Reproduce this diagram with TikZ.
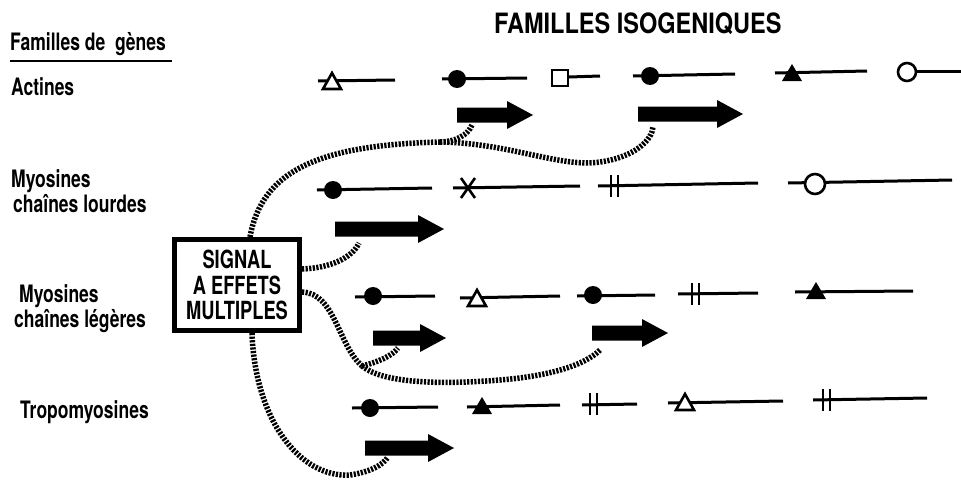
\documentclass[tikz,border=0pt]{standalone}
\usepackage{fontspec}
\setmainfont{TeX Gyre Heros}[FakeStretch=0.73]
\newfontfamily\titlefont{TeX Gyre Heros}[FakeStretch=0.84]
\newcommand\blockarrow[4]{% name, x, y, body length
  \fill[black] (#2,#3-7.5) -- ++(#4,0) -- ++(0,-6.5) -- ++(26,14) -- ++(-26,14) -- ++(0,-6.5) -- ++(-#4,0) -- cycle;
  \coordinate (#1) at (#2,#3);}
\newcommand\gtriO[2]{\draw[gsym,fill=white] (#1-9,#2+8) -- (#1,#2-8) -- (#1+9,#2+8) -- cycle;}
\newcommand\gtriF[2]{\fill (#1-10,#2+8) -- (#1,#2-9) -- (#1+10,#2+8) -- cycle;}
\newcommand\gbars[3]{\draw[gsym] (#1,#2-11) -- (#1,#2+11) (#1+7,#2-11) -- (#1+7,#2+11);}
\newcommand\gcross[2]{\draw[gsym] (#1-7,#2-10) -- (#1+7,#2+10) (#1+7,#2-10) -- (#1-7,#2+10);}
\begin{document}
\begin{tikzpicture}[x=1pt,y=-1pt,
  lab/.style={anchor=base west, font=\fontsize{24}{28}\selectfont\bfseries, inner sep=0},
  gline/.style={line width=3pt},
  gsym/.style={line width=2.6pt},
  dotF/.style={circle, fill=black, inner sep=0, minimum size=18pt},
  dotO/.style={circle, draw, fill=white, line width=2.6pt, inner sep=0, minimum size=18pt},
  sqO/.style={rectangle, draw, fill=white, line width=2.4pt, inner sep=0, minimum size=16pt},
  sigline/.style={line width=5.5pt, dash pattern=on 2.2pt off 1.4pt},
  sigbox/.style={draw, line width=5pt, minimum width=125pt, minimum height=91pt, inner sep=0,
     align=center, font=\fontsize{25}{25.5}\selectfont\bfseries}]
\useasboundingbox (0,0) rectangle (961,482);

% left labels
\node[lab] (fam) at (10,50) {Familles de\ \ gènes};
\draw[line width=2pt] (10,61) -- (172,61);
\node[lab] (act) at (11,95) {Actines};
\node[lab] (myl1) at (11,187) {Myosines};
\node[lab] (myl2) at (13,212) {chaînes lourdes};
\node[lab] (mye1) at (19,302) {Myosines};
\node[lab] (mye2) at (14,327) {chaînes légères};
\node[lab] (tro) at (20,418) {Tropomyosines};
\node[anchor=base west, inner sep=0, font=\fontsize{28}{30}\titlefont\bfseries] (title) at (494,33) {FAMILLES ISOGENIQUES};

% signal box
\node[sigbox] (sig) at (237,285) {SIGNAL\\A EFFETS\\MULTIPLES};

% row 1: Actines
\draw[gline] (318,81) -- (395,80); \gtriO{332}{81}
\draw[gline] (442,79) -- (527,78); \node[dotF] (r1b) at (457,79) {};
\draw[gline] (569,77) -- (600,76); \node[sqO] (r1c) at (560,78) {};
\draw[gline] (633,76) -- (735,74); \node[dotF] (r1d) at (650,76) {};
\draw[gline] (775,73) -- (867,71); \gtriF{792}{73}
\draw[gline] (916,71) -- (961,71); \node[dotO] (r1f) at (907,72) {};

% row 2: Myosines chaines lourdes
\draw[gline] (317,190) -- (432,188); \node[dotF] (r2a) at (333,190) {};
\draw[gline] (453,188) -- (580,186); \gcross{468}{188}
\draw[gline] (598,186) -- (758,183); \gbars{611}{186}{}
\draw[gline] (788,183) -- (952,180); \node[dotO,minimum size=20pt] (r2d) at (815,184) {};

% row 3: Myosines chaines legeres
\draw[gline] (355,297) -- (435,296); \node[dotF] (r3a) at (373,296) {};
\draw[gline] (460,298) -- (560,296); \gtriO{477}{298}
\draw[gline] (577,296) -- (655,295); \node[dotF] (r3c) at (593,295) {};
\draw[gline] (678,294) -- (758,293); \gbars{692}{294}{}
\draw[gline] (795,292) -- (913,291); \gtriF{816}{291}

% row 4: Tropomyosines
\draw[gline] (352,408) -- (438,407); \node[dotF] (r4a) at (370,408) {};
\draw[gline] (467,407) -- (560,405); \gtriF{482}{406}
\draw[gline] (582,405) -- (637,404); \gbars{590}{404}{}
\draw[gline] (668,403) -- (783,401); \gtriO{685}{402}
\draw[gline] (813,400) -- (927,398); \gbars{823}{400}{}

% block arrows
\blockarrow{a1}{457}{115}{50}
\blockarrow{a2}{638}{114}{79}
\blockarrow{a3}{335}{229}{83}
\blockarrow{a4}{373}{338}{47}
\blockarrow{a5}{592}{333}{50}
\blockarrow{a6}{365}{448}{63}

% dotted signal paths
\coordinate (j1) at (440,142);
\coordinate (j2) at (362,366);
\draw[sigline] ([xshift=13pt]sig.north) .. controls (262,170) and (320,145) .. (j1);
\draw[sigline] (j1) .. controls (455,142) and (468,135) .. ([shift={(15,10)}]a1);
\draw[sigline] (j1) .. controls (510,143) and (560,168) .. (600,162)
   .. controls (635,157) and (652,140) .. ([shift={(15,13)}]a2);
\draw[sigline] ([yshift=16pt]sig.east) .. controls (330,268) and (352,258) .. ([shift={(24,14)}]a3);
\draw[sigline] ([yshift=-7pt]sig.east) .. controls (335,293) and (338,345) .. (j2);
\draw[sigline] (j2) .. controls (378,362) and (392,356) .. ([shift={(25,10)}]a4);
\draw[sigline] (j2) .. controls (385,385) and (450,384) .. (500,380)
   .. controls (550,376) and (585,365) .. ([shift={(8,17)}]a5);
\draw[sigline] ([xshift=15pt]sig.south) .. controls (255,420) and (300,478) .. (350,475)
   .. controls (370,472) and (383,465) .. ([shift={(23,9)}]a6);
\end{tikzpicture}
\end{document}
